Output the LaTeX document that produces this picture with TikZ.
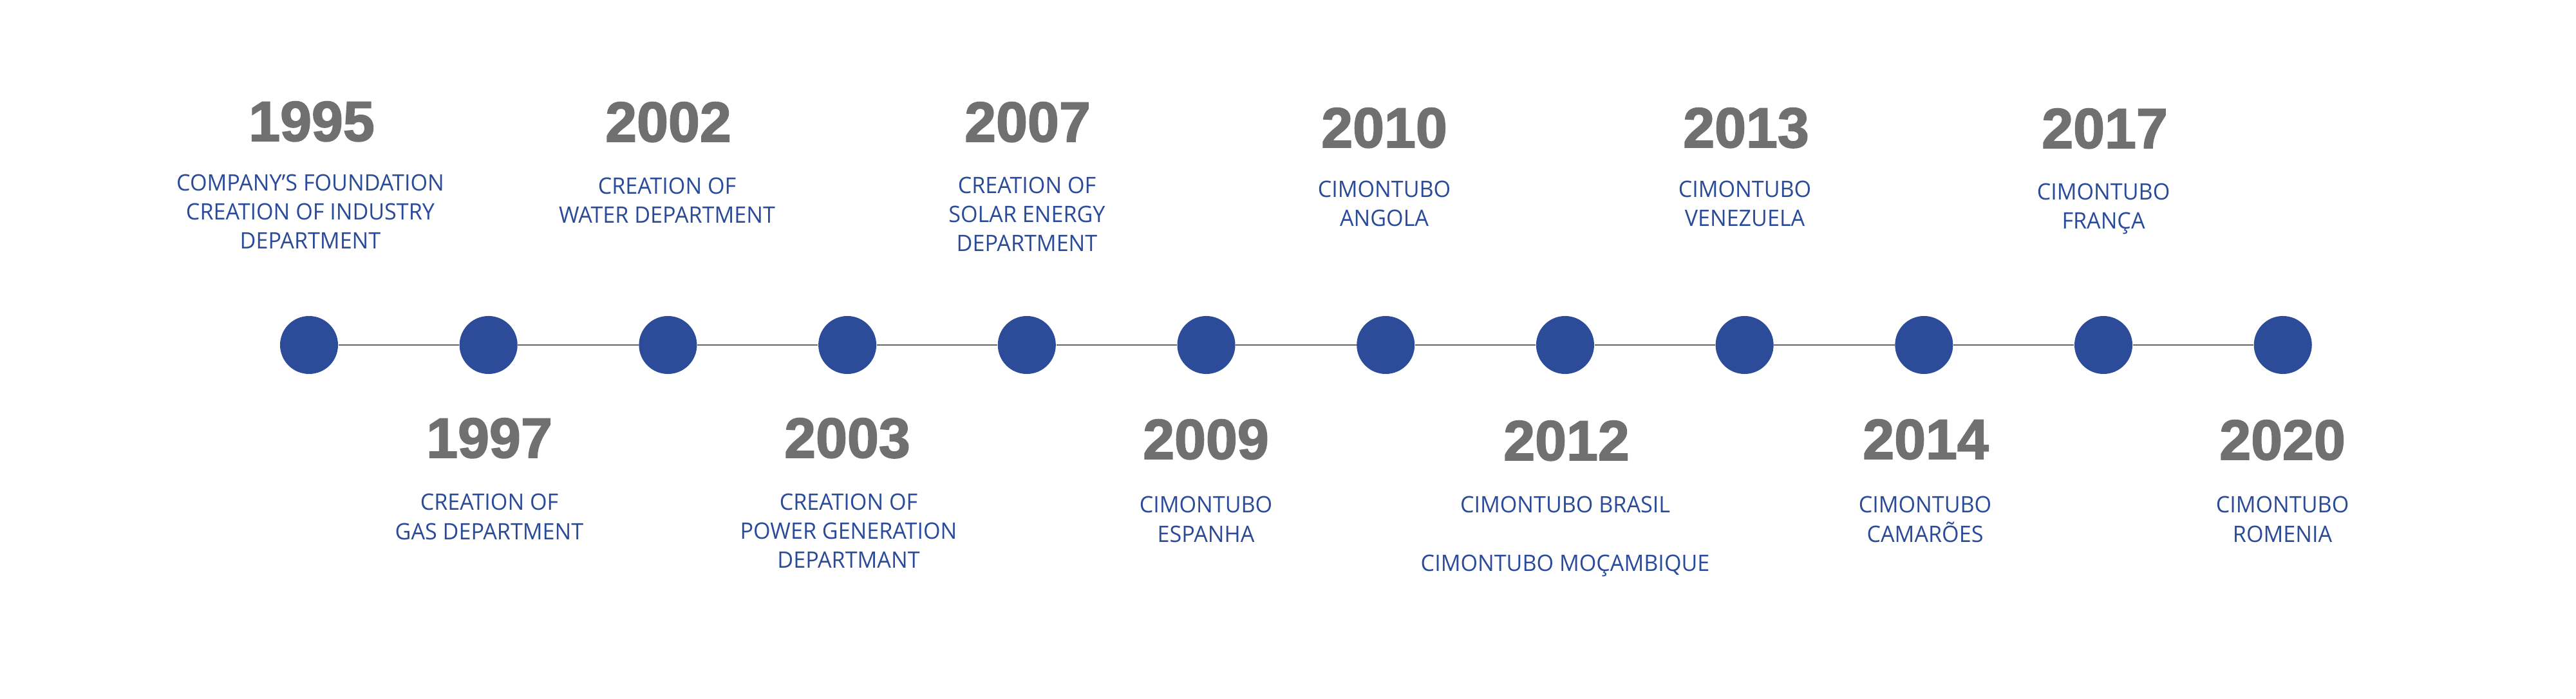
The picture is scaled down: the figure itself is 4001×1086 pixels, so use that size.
\documentclass[tikz,border=0pt]{standalone}
\usepackage{fontspec}
\newfontfamily\descfont{Open Sans}[FakeStretch=0.97]
\newfontfamily\yearfont{Liberation Sans}[FakeBold=2]
\definecolor{dotblue}{HTML}{2C4C9A}
\definecolor{txtblue}{HTML}{2A4A9A}
\definecolor{yeargray}{HTML}{707070}
\definecolor{linegray}{HTML}{666666}
\begin{document}
\begin{tikzpicture}[x=0.01cm,y=-0.01cm,
  dot/.style={circle,fill=dotblue,minimum size=0.9cm,inner sep=0pt},
  tl/.style={draw=linegray,line width=0.65pt},
  year/.style={anchor=base,inner sep=0pt,text=yeargray,font=\yearfont\bfseries\fontsize{25pt}{30pt}\selectfont},
  desc/.style={anchor=base,inner sep=0pt,align=center,text=txtblue,font=\descfont\fontsize{10pt}{12.8pt}\selectfont}]
\useasboundingbox[fill=white] (0,0) rectangle (4001,1086);
% dots
\node[dot] (c0) at (480,536) {};
\node[dot] (c1) at (758.7,536) {};
\node[dot] (c2) at (1037.4,536) {};
\node[dot] (c3) at (1316.1,536) {};
\node[dot] (c4) at (1594.8,536) {};
\node[dot] (c5) at (1873.5,536) {};
\node[dot] (c6) at (2152.2,536) {};
\node[dot] (c7) at (2430.9,536) {};
\node[dot] (c8) at (2709.6,536) {};
\node[dot] (c9) at (2988.3,536) {};
\node[dot] (c10) at (3267,536) {};
\node[dot] (c11) at (3545.7,536) {};
\foreach \a/\b in {c0/c1,c1/c2,c2/c3,c3/c4,c4/c5,c5/c6,c6/c7,c7/c8,c8/c9,c9/c10,c10/c11}
  \draw[tl] (\a) -- (\b);
% top labels (desc nodes placed at the baseline of their last line)
\node[year] (y1995) at (484,219) {1995};
\node[desc] (d1995) at (482,387) {COMPANY’S FOUNDATION\\CREATION OF INDUSTRY\\DEPARTMENT};
\node[year] (y2002) at (1038,220) {2002};
\node[desc] (d2002) at (1036,347) {CREATION OF\\WATER DEPARTMENT};
\node[year] (y2007) at (1596,220) {2007};
\node[desc] (d2007) at (1595,391) {CREATION OF\\SOLAR ENERGY\\DEPARTMENT};
\node[year] (y2010) at (2150,229) {2010};
\node[desc] (d2010) at (2150,352) {CIMONTUBO\\ANGOLA};
\node[year] (y2013) at (2712,229) {2013};
\node[desc] (d2013) at (2710,352) {CIMONTUBO\\VENEZUELA};
\node[year] (y2017) at (3269,230) {2017};
\node[desc] (d2017) at (3267,356) {CIMONTUBO\\FRANÇA};
% bottom labels
\node[year] (y1997) at (760,711) {1997};
\node[desc] (d1997) at (760,838) {CREATION OF\\GAS DEPARTMENT};
\node[year] (y2003) at (1316,711) {2003};
\node[desc] (d2003) at (1318,883) {CREATION OF\\POWER GENERATION\\DEPARTMANT};
\node[year] (y2009) at (1873,713) {2009};
\node[desc] (d2009) at (1873,842) {CIMONTUBO\\ESPANHA};
\node[year] (y2012) at (2433,715) {2012};
\node[desc] (d2012) at (2431,887) {CIMONTUBO BRASIL\\[12.8pt]CIMONTUBO MOÇAMBIQUE};
\node[year] (y2014) at (2991,713) {2014};
\node[desc] (d2014) at (2990,842) {CIMONTUBO\\CAMARÕES};
\node[year] (y2020) at (3545,714) {2020};
\node[desc] (d2020) at (3545,842) {CIMONTUBO\\ROMENIA};
\end{tikzpicture}
\end{document}
